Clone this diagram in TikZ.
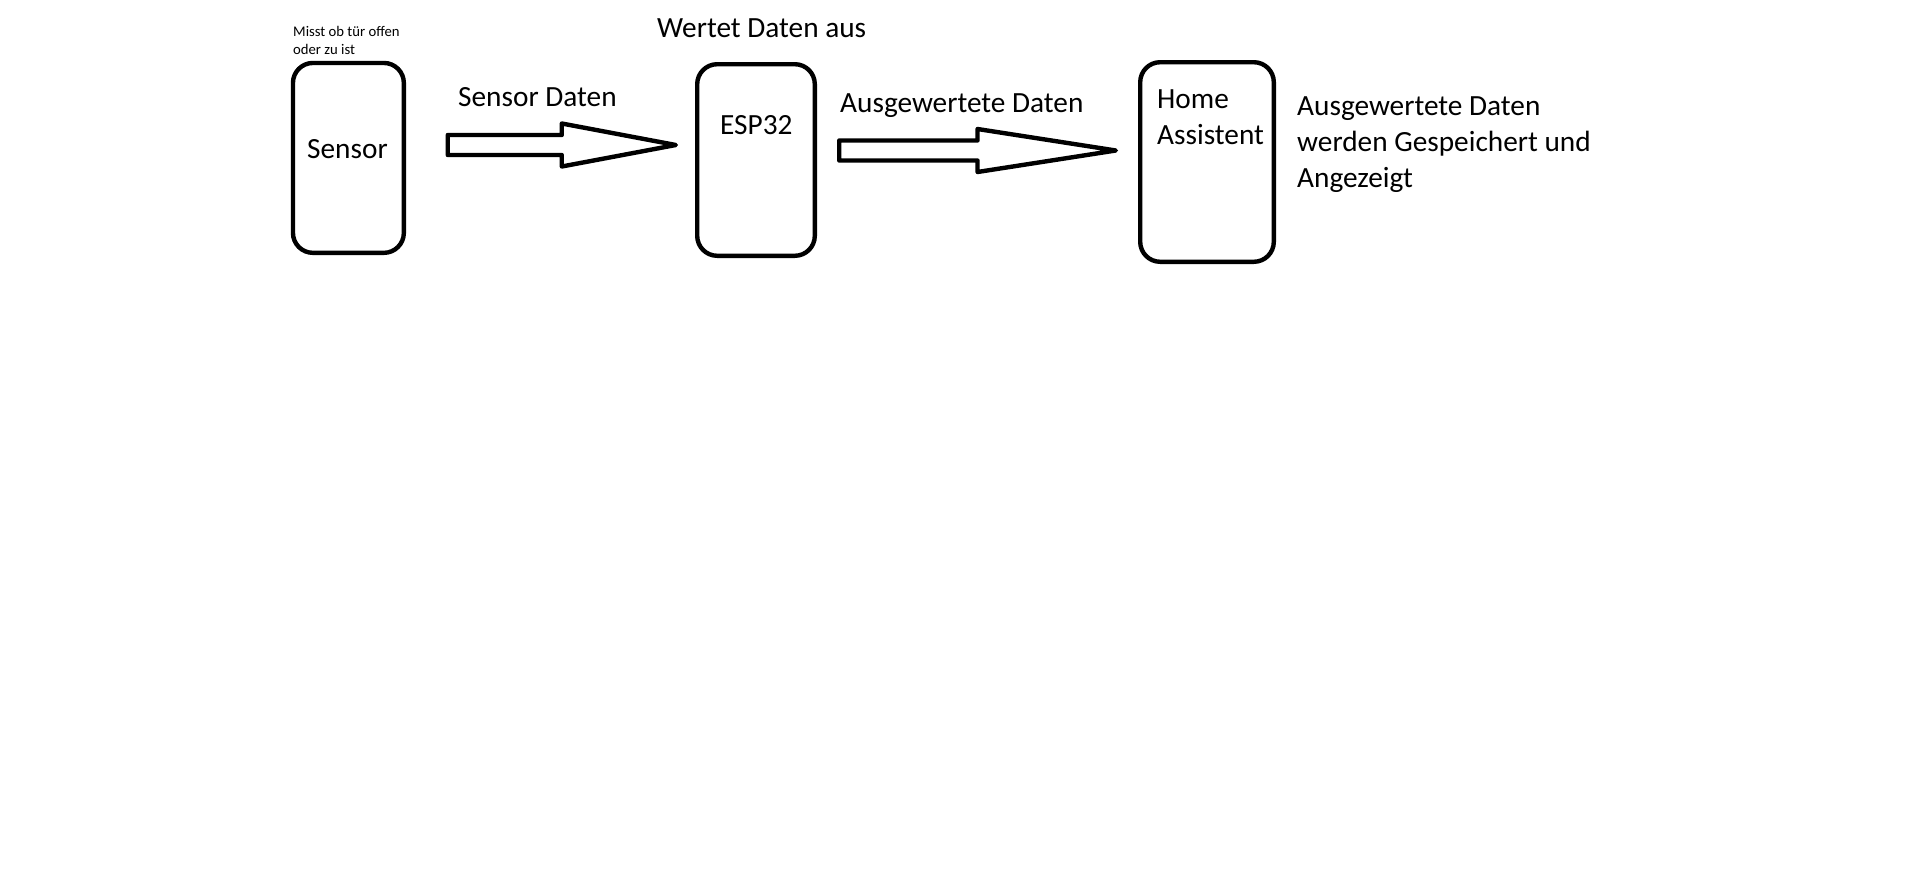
\documentclass[tikz,border=0pt]{standalone}
\usepackage{fontspec}
\setmainfont{Carlito}
\usetikzlibrary{calc}

\tikzset{
  kasten/.style={draw, line width=4.4pt, rounded corners=20pt, inner sep=0pt},
  pfeil/.style={draw, line width=4.4pt, line join=round, fill=white},
  gross/.style={font=\fontsize{29.3}{36}\selectfont, inner sep=0pt, anchor=base west, align=left},
  klein/.style={font=\fontsize{14.7}{18}\selectfont, inner sep=0pt, anchor=base west, align=left}
}

% block arrow from tail (#1) to tip (#2)
\newcommand{\datenpfeil}[2]{%
  \draw[pfeil] let \p1=(#1), \p2=(#2), \n1={\x1+0.5*(\x2-\x1)} in
    (\x1,\y1+10pt) -- (\n1,\y1+10pt) -- (\n1,\y1+21.5pt) -- (\x2,\y2)
    -- (\n1,\y1-21.5pt) -- (\n1,\y1-10pt) -- (\x1,\y1-10pt) -- cycle;
}

\begin{document}
\begin{tikzpicture}[x=1pt, y=-1pt]
\useasboundingbox (0,0) rectangle (1906,870);

% boxes
\node[kasten, minimum width=110.9pt, minimum height=189.9pt] (sensor) at (348.4,157.9) {};
\node[kasten, minimum width=117.6pt, minimum height=191.6pt] (esp) at (756,160) {};
\node[kasten, minimum width=133.6pt, minimum height=199.6pt] (home) at (1207,162) {};

% box texts
\node[gross] (sensortxt) at (307,158) {Sensor};
\node[gross] (esptxt) at (720,134) {ESP32};
\node[gross] (hometxt) at (1157,144) {Home\\Assistent};

% descriptions
\node[klein] (sensorinfo) at (293,54) {Misst ob tür offen\\oder zu ist};
\node[gross] (espinfo) at (657,37.7) {Wertet Daten aus};
\node[gross] (homeinfo) at (1297,187.5) {Ausgewertete Daten\\werden Gespeichert und\\Angezeigt};

% arrows
\coordinate (d1a) at ($(sensor.east)+(41.7,-12.9)$);
\coordinate (d1b) at ($(esp.west)+(-19.2,-15)$);
\coordinate (d2a) at ($(esp.east)+(22.2,-9.5)$);
\coordinate (d2b) at ($(home.west)+(-22.2,-11.5)$);
\datenpfeil{d1a}{d1b}
\datenpfeil{d2a}{d2b}

\node[gross] (d1txt) at (458,106) {Sensor Daten};
\node[gross] (d2txt) at (840,112.5) {Ausgewertete Daten};
\end{tikzpicture}
\end{document}
